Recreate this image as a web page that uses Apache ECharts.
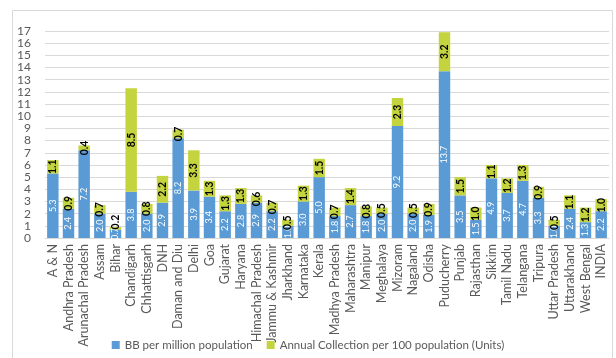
<!DOCTYPE html>
<html>
<head>
<meta charset="utf-8">
<script src="https://cdn.jsdelivr.net/npm/echarts@6/dist/echarts.min.js"></script>
<style>
  html, body { margin: 0; padding: 0; background: #fff; }
  #chart { width: 616px; height: 358px; }
</style>
</head>
<body>
<div id="chart"></div>
<script>
var states = ['A & N', 'Andhra Pradesh', 'Arunachal Pradesh', 'Assam', 'Bihar', 'Chandigarh',
  'Chhattisgarh', 'DNH', 'Daman and Diu', 'Delhi', 'Goa', 'Gujarat', 'Haryana',
  'Himachal Pradesh', 'Jammu & Kashmir', 'Jharkhand', 'Karnataka', 'Kerala',
  'Madhya Pradesh', 'Maharashtra', 'Manipur', 'Meghalaya', 'Mizoram', 'Nagaland',
  'Odisha', 'Puducherry', 'Punjab', 'Rajasthan', 'Sikkim', 'Tamil Nadu', 'Telangana',
  'Tripura', 'Uttar Pradesh', 'Uttarakhand', 'West Bengal', 'INDIA'];

// BB per million population
var bbPerMillion = [5.3, 2.4, 7.2, 2.0, 0.7, 3.8, 2.0, 2.9, 8.2, 3.9, 3.4, 2.2, 2.8,
  2.9, 2.2, 1.0, 3.0, 5.0, 1.8, 2.7, 1.8, 2.0, 9.2, 2.0, 1.9, 13.7, 3.5, 1.5, 4.9,
  3.7, 4.7, 3.3, 1.0, 2.4, 1.3, 2.2];

// Annual Collection per 100 population (Units)
var annualCollection = [1.1, 0.9, 0.4, 0.7, 0.2, 8.5, 0.8, 2.2, 0.7, 3.3, 1.3, 1.3, 1.3,
  0.6, 0.7, 0.5, 1.3, 1.5, 0.7, 1.4, 0.8, 0.5, 2.3, 0.5, 0.9, 3.2, 1.5, 1.0, 1.1,
  1.2, 1.3, 0.9, 0.5, 1.1, 1.2, 1.0];

var yTicks = { min: 0, max: 17, step: 1 };

var font = 'Lato, "Open Sans", sans-serif';

// kleine Segmente: Beschriftung über dem Balken
var collectionData = annualCollection.map(function (v) {
  if (v < 0.3) {
    return { value: v, label: { position: 'top', offset: [0, 0] } };
  }
  return v;
});

var chart = echarts.init(document.getElementById('chart'));

chart.setOption({
  animation: false,
  textStyle: { fontFamily: font },
  graphic: [{
    type: 'rect',
    shape: { x: 12.5, y: 10.5, width: 600, height: 380 },
    style: { fill: 'none', stroke: '#d9d9d9', lineWidth: 1 },
    silent: true
  }],
  legend: {
    bottom: 2,
    left: 'center',
    itemWidth: 8,
    itemHeight: 8,
    itemGap: 14,
    icon: 'rect',
    textStyle: { color: '#595959', fontSize: 11.5, fontFamily: font },
    data: ['BB per million population', 'Annual Collection per 100 population (Units)']
  },
  grid: { left: 45, right: 7, top: 31, bottom: 120, containLabel: false },
  xAxis: {
    type: 'category',
    data: states,
    axisLine: { lineStyle: { color: '#d9d9d9' } },
    axisTick: { show: false },
    axisLabel: {
      rotate: 90,
      interval: 0,
      color: '#595959',
      fontSize: 12.5,
      margin: 6,
      fontFamily: font
    }
  },
  yAxis: {
    type: 'value',
    min: yTicks.min,
    max: yTicks.max,
    interval: yTicks.step,
    axisLine: { show: false },
    axisTick: { show: false },
    axisLabel: { color: '#595959', fontSize: 12, margin: 14, fontFamily: font },
    splitLine: { lineStyle: { color: '#d9d9d9' } }
  },
  series: [{
    name: 'BB per million population',
    type: 'bar',
    stack: 'total',
    barWidth: '73%',
    itemStyle: { color: '#5b9bd5' },
    labelLayout: { hideOverlap: false },
    label: {
      show: true,
      position: ['50%', '50%'],
      align: 'center',
      verticalAlign: 'middle',
      rotate: 90,
      color: '#ffffff',
      fontSize: 9,
      fontFamily: font,
      formatter: function (p) { return p.value.toFixed(1); }
    },
    data: bbPerMillion
  }, {
    name: 'Annual Collection per 100 population (Units)',
    type: 'bar',
    stack: 'total',
    itemStyle: { color: '#c4d43f' },
    labelLayout: { hideOverlap: false },
    label: {
      show: true,
      position: ['50%', '50%'],
      align: 'center',
      verticalAlign: 'middle',
      rotate: 90,
      color: '#000000',
      fontSize: 10.5,
      fontWeight: 'bold',
      fontFamily: font,
      formatter: function (p) { return p.value.toFixed(1); }
    },
    data: collectionData
  }]
});
</script>
</body>
</html>
